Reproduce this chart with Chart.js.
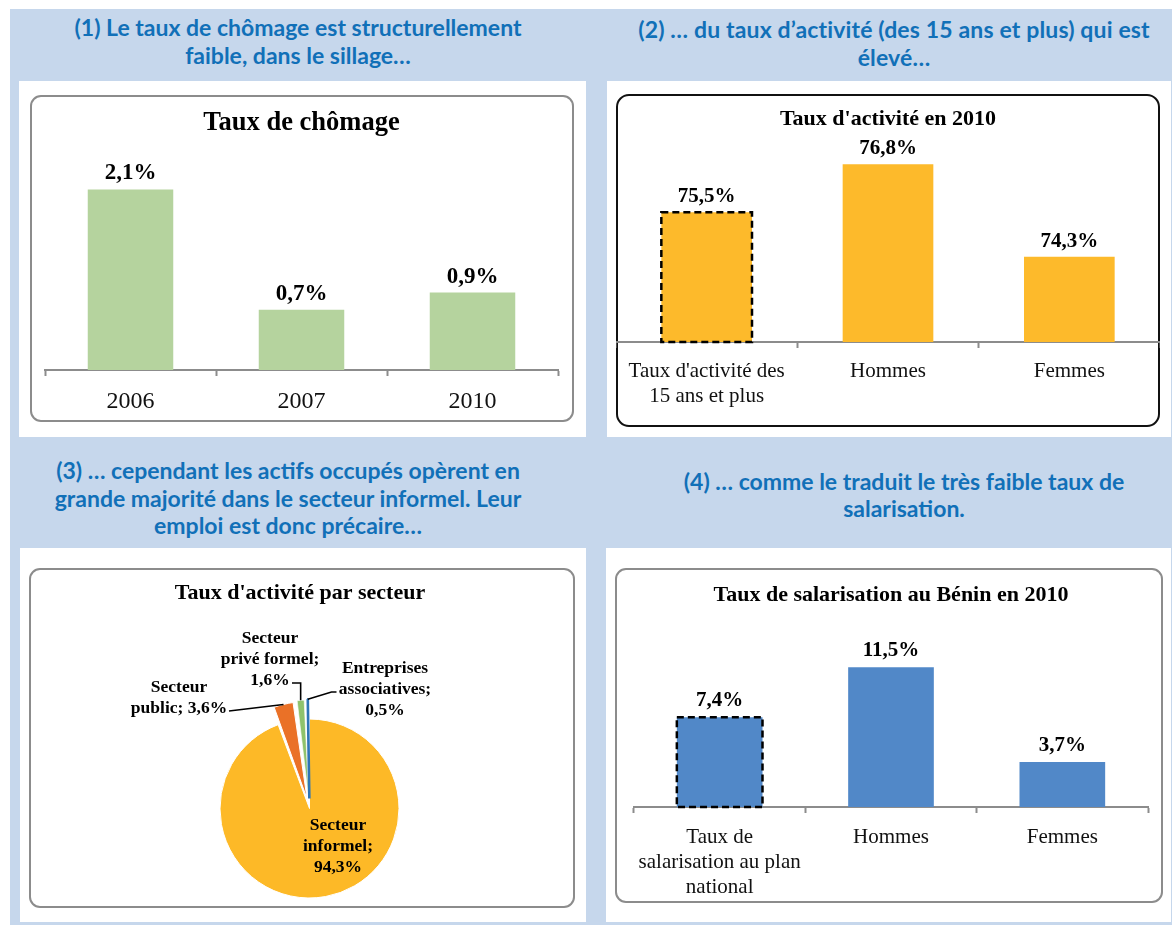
<!DOCTYPE html>
<html lang="fr">
<head>
<meta charset="utf-8">
<title>Chômage, activité et salarisation au Bénin</title>
<script src="https://cdn.jsdelivr.net/npm/chart.js@4.4.1/dist/chart.umd.min.js"></script>
<style>
  html, body { margin: 0; padding: 0; background: #fff; }
  body { width: 1172px; height: 925px; position: relative; overflow: hidden; }
  .bleu { position: absolute; left: 10px; top: 9px; width: 1162px; height: 916px; background: #c6d7ec; }
  .blanc { position: absolute; background: #fff; }
  .titre {
    position: absolute; font-family: Lato, 'Open Sans', sans-serif; font-weight: 700;
    font-size: 23px; line-height: 28px; color: #1170b8; text-align: center; white-space: nowrap;
  }
  .cadre { position: absolute; box-sizing: border-box; border: 2px solid #8c8c8c; border-radius: 11px; background: #fff; }
  .cadre.noir { border-color: #111; border-radius: 13px; }
  canvas { position: absolute; }
</style>
</head>
<body>
<div class="bleu"></div>

<div class="titre" style="left:10px;top:13px;width:576px">(1) Le taux de chômage est structurellement<br>faible, dans le sillage…</div>
<div class="titre" style="left:612px;top:15px;width:564px;letter-spacing:0.15px">(2) … du taux d’activité (des 15 ans et plus) qui est<br>élevé…</div>
<div class="titre" style="left:0px;top:457px;width:576px;line-height:27.5px">(3) … cependant les actifs occupés opèrent en<br>grande majorité dans le secteur informel. Leur<br>emploi est donc précaire…</div>
<div class="titre" style="left:622px;top:468px;width:564px;line-height:27px">(4) … comme le traduit le très faible taux de<br>salarisation.</div>

<div class="blanc" style="left:19px;top:81px;width:567px;height:356px"></div>
<div class="blanc" style="left:607px;top:81px;width:564px;height:356px"></div>
<div class="blanc" style="left:20px;top:548px;width:566px;height:374px"></div>
<div class="blanc" style="left:606px;top:548px;width:565px;height:374px"></div>

<div class="cadre" style="left:30px;top:95px;width:544px;height:327px"></div>
<div class="cadre noir" style="left:616px;top:94px;width:544px;height:333px"></div>
<div class="cadre" style="left:29px;top:568px;width:546px;height:340px"></div>
<div class="cadre" style="left:615px;top:568px;width:548px;height:335px"></div>

<canvas id="chomage" width="544" height="327" style="left:30px;top:95px"></canvas>
<canvas id="activite" width="544" height="333" style="left:616px;top:94px"></canvas>
<canvas id="secteurs" width="546" height="340" style="left:29px;top:568px"></canvas>
<canvas id="salariat" width="548" height="335" style="left:615px;top:568px"></canvas>

<script>
// Données
const anneesChomage = ['2006', '2007', '2010'];
const tauxChomage = [2.1, 0.7, 0.9];

const categoriesActivite = [["Taux d'activité des", '15 ans et plus'], 'Hommes', 'Femmes'];
const tauxActivite = [75.5, 76.8, 74.3];

const secteurs = [['Secteur', 'informel'], ['Secteur', 'public'], ['Secteur', 'privé formel'], ['Entreprises', 'associatives']];
const partsSecteurs = [94.3, 3.6, 1.6, 0.5];

const categoriesSalariat = [['Taux de', 'salarisation au plan', 'national'], 'Hommes', 'Femmes'];
const tauxSalariat = [7.4, 11.5, 3.7];

const couleursSecteurs = ['#fdb927', '#ea7127', '#8fc26c', '#2e75b6'];
const GRIS = '#8c8c8c';
const SERIF = "'Liberation Serif', 'Times New Roman', serif";

Chart.defaults.font.family = SERIF;
Chart.defaults.color = '#111';

const formatPct = v => v.toFixed(1).replace('.', ',') + '%';

// valeurs au-dessus des barres + cadre pointillé sur la 1re barre
const etiquettesBarres = {
    id: 'etiquettesBarres',
    afterDatasetsDraw(chart, args, opts) {
        const { ctx, chartArea } = chart;
        const meta = chart.getDatasetMeta(0);
        const valeurs = chart.data.datasets[0].data;
        ctx.save();
        ctx.font = `bold ${opts.taille}px ${SERIF}`;
        ctx.fillStyle = '#000';
        ctx.textAlign = 'center';
        ctx.textBaseline = 'alphabetic';
        meta.data.forEach((barre, i) => {
            ctx.fillText(formatPct(valeurs[i]), barre.x, barre.y - opts.ecart);
        });
        if (opts.pointille) {
            const b = meta.data[0].getProps(['x', 'y', 'base', 'width'], true);
            const bas = Math.min(b.base, chartArea.bottom);
            ctx.strokeStyle = '#000';
            ctx.lineWidth = 2.5;
            ctx.setLineDash([7, 4]);
            ctx.strokeRect(b.x - b.width / 2, b.y, b.width, bas - b.y);
        }
        ctx.restore();
    }
};

// titre + étiquettes du camembert avec lignes de rappel
const etiquettesSecteurs = {
    id: 'etiquettesSecteurs',
    afterDatasetsDraw(chart, args, opts) {
        const { ctx } = chart;
        const arcs = chart.getDatasetMeta(0).data;
        const valeurs = chart.data.datasets[0].data;
        ctx.save();
        ctx.fillStyle = '#000';
        ctx.textAlign = 'center';
        ctx.textBaseline = 'middle';
        ctx.font = `bold ${opts.tailleTitre}px ${SERIF}`;
        ctx.fillText(opts.titre, chart.width / 2 - 2, opts.yTitre);

        ctx.font = `bold ${opts.taille}px ${SERIF}`;
        ctx.strokeStyle = '#000';
        ctx.lineWidth = 1.6;
        arcs.forEach((arc, i) => {
            const p = opts.placements[i];
            const cx = arc.x, cy = arc.y;
            const lignes = secteurs[i].slice();
            const val = formatPct(valeurs[i]);
            if (p.valeurMemeLigne) {
                lignes[lignes.length - 1] += '; ' + val;
            } else {
                lignes[lignes.length - 1] += ';';
                lignes.push(val);
            }
            lignes.forEach((l, k) => ctx.fillText(l, cx + p.dx, cy + p.dy + k * opts.interligne));

            if (p.depart) {
                const mid = (arc.startAngle + arc.endAngle) / 2;
                const t = (arc.options.offset || 0) / 4;
                const fix = 1 - Math.sin(Math.min(Math.PI, arc.circumference));
                const d = t + arc.outerRadius + t * fix;
                const ex = cx + Math.cos(mid) * d;
                const ey = cy + Math.sin(mid) * d;
                ctx.beginPath();
                ctx.moveTo(cx + p.depart[0], cy + p.depart[1]);
                if (p.coude === 'hv') ctx.lineTo(ex, cy + p.depart[1]);
                else if (p.coude) ctx.lineTo(cx + p.coude[0], cy + p.coude[1]);
                ctx.lineTo(ex, ey);
                ctx.stroke();
            }
        });
        ctx.restore();
    }
};

function axeX(taille, padding, hauteur) {
    return {
        grid: { display: true, drawOnChartArea: false, drawTicks: true, tickLength: 6, tickColor: GRIS, tickWidth: 2 },
        border: { display: true, color: GRIS, width: 2 },
        ticks: { font: { size: taille }, padding: padding, color: '#111', autoSkip: false, maxRotation: 0 },
        afterFit: s => { s.height = hauteur; }
    };
}

function titre(texte, taille, haut, bas) {
    return { display: true, text: texte, color: '#000', font: { size: taille, weight: 'bold' }, padding: { top: haut, bottom: bas } };
}

const sansInteraction = { legend: { display: false }, tooltip: { enabled: false } };

// (1) Taux de chômage
new Chart(document.getElementById('chomage'), {
    type: 'bar',
    data: {
        labels: anneesChomage,
        datasets: [{ data: tauxChomage, backgroundColor: '#b5d39e', categoryPercentage: 1, barPercentage: 0.5 }]
    },
    options: {
        responsive: false,
        animation: false,
        layout: { padding: { left: 15, right: 16, top: 0, bottom: 0 } },
        scales: {
            x: axeX(24, 11.4, 52),
            y: { display: false, min: 0, max: 2.5 }
        },
        plugins: {
            ...sansInteraction,
            title: titre('Taux de chômage', 26.5, 12.1, 16.1),
            etiquettesBarres: { taille: 23, ecart: 10 }
        }
    },
    plugins: [etiquettesBarres]
});

// (2) Taux d'activité en 2010
new Chart(document.getElementById('activite'), {
    type: 'bar',
    data: {
        labels: categoriesActivite,
        datasets: [{ data: tauxActivite, backgroundColor: '#fdba2b', categoryPercentage: 1, barPercentage: 0.5 }]
    },
    options: {
        responsive: false,
        animation: false,
        layout: { padding: { left: 0, right: 0, top: 0, bottom: 0 } },
        scales: {
            x: axeX(21, 10.4, 85),
            y: { display: false, min: 72, max: 77.4 }
        },
        plugins: {
            ...sansInteraction,
            title: titre("Taux d'activité en 2010", 22, 12, 9.6),
            etiquettesBarres: { taille: 21, ecart: 10, pointille: true }
        }
    },
    plugins: [etiquettesBarres]
});

// (3) Taux d'activité par secteur
// la part minuscule (0,5 %) disparaît avec le décalage : on l'épaissit avec une bordure de sa couleur
new Chart(document.getElementById('secteurs'), {
    type: 'pie',
    data: {
        labels: secteurs.map(s => s.join(' ')),
        datasets: [{
            data: partsSecteurs,
            backgroundColor: couleursSecteurs,
            borderColor: ['#fff', '#fff', '#fff', couleursSecteurs[3]],
            borderWidth: [1, 1, 0.6, 2.6],
            offset: [0, 40, 40, 40],
            hoverOffset: 0,
            radius: 89.5,
            clip: false
        }]
    },
    options: {
        responsive: false,
        animation: false,
        layout: { padding: { left: 15, right: 0, top: 146, bottom: 5 } },
        plugins: {
            ...sansInteraction,
            etiquettesSecteurs: {
                titre: "Taux d'activité par secteur",
                tailleTitre: 22,
                yTitre: 25,
                taille: 17.5,
                interligne: 21,
                placements: [
                    { dx: 28.5, dy: 16.5 },
                    { dx: -130.5, dy: -121.5, valeurMemeLigne: true, depart: [-80.5, -97.5] },
                    { dx: -39.5, dy: -170.5, depart: [-17.5, -125.5], coude: 'hv' },
                    { dx: 75.5, dy: -140.5, depart: [27, -116.5], coude: [22, -116.5] }
                ]
            }
        }
    },
    plugins: [etiquettesSecteurs]
});

// (4) Taux de salarisation au Bénin en 2010
new Chart(document.getElementById('salariat'), {
    type: 'bar',
    data: {
        labels: categoriesSalariat,
        datasets: [{ data: tauxSalariat, backgroundColor: '#5188c8', categoryPercentage: 1, barPercentage: 0.5 }]
    },
    options: {
        responsive: false,
        animation: false,
        layout: { padding: { left: 19, right: 15, top: 0, bottom: 0 } },
        scales: {
            x: axeX(21, 11.4, 96),
            y: { display: false, min: 0, max: 14 }
        },
        plugins: {
            ...sansInteraction,
            title: titre('Taux de salarisation au Bénin en 2010', 22, 13.8, 28.8),
            etiquettesBarres: { taille: 21, ecart: 11, pointille: true }
        }
    },
    plugins: [etiquettesBarres]
});
</script>
</body>
</html>
